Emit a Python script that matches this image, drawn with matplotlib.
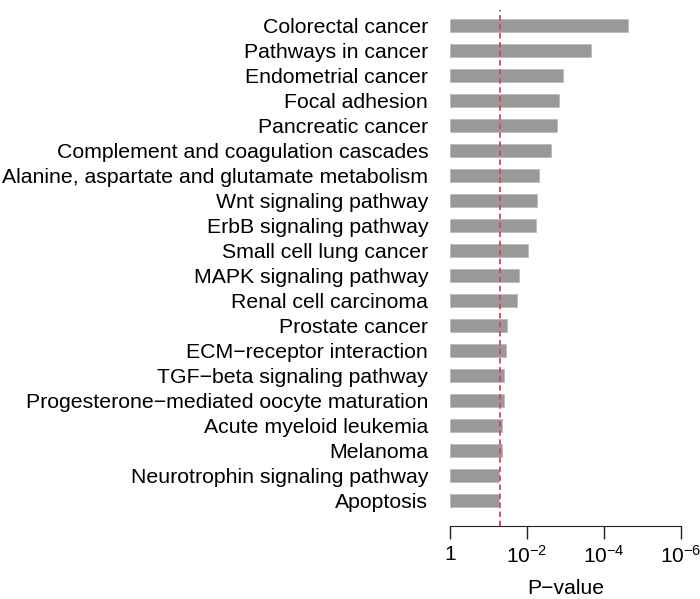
import numpy as np
import matplotlib
matplotlib.use("Agg")
from matplotlib import pyplot as plt

# pathway names, top to bottom
pathways = [
    "Colorectal cancer",
    "Pathways in cancer",
    "Endometrial cancer",
    "Focal adhesion",
    "Pancreatic cancer",
    "Complement and coagulation cascades",
    "Alanine, aspartate and glutamate metabolism",
    "Wnt signaling pathway",
    "ErbB signaling pathway",
    "Small cell lung cancer",
    "MAPK signaling pathway",
    "Renal cell carcinoma",
    "Prostate cancer",
    "ECM\u2212receptor interaction",
    "TGF\u2212beta signaling pathway",
    "Progesterone\u2212mediated oocyte maturation",
    "Acute myeloid leukemia",
    "Melanoma",
    "Neurotrophin signaling pathway",
    "Apoptosis",
]
# -log10(p)
neglogp = [4.63, 3.67, 2.95, 2.84, 2.77, 2.62, 2.31, 2.26, 2.24, 2.04,
           1.80, 1.73, 1.49, 1.45, 1.40, 1.40, 1.36, 1.35, 1.28, 1.28]
cutoff = 0.05
xticks = [0, 2, 4, 6]
xticklabels = ["1", r"$10^{-2}$", r"$10^{-4}$", r"$10^{-6}$"]

plt.rcParams['font.family'] = ['Liberation Sans', 'DejaVu Sans']
plt.rcParams['mathtext.fontset'] = 'custom'
plt.rcParams['mathtext.rm'] = 'Liberation Sans'
plt.rcParams['mathtext.it'] = 'Liberation Sans'

fig = plt.figure(figsize=(7, 5.99), dpi=100)
ax = fig.add_axes([0.643, 0.1219, 0.3294, 0.8614])

pos = np.arange(len(pathways))
ax.barh(pos, neglogp, height=0.53, color='#999999', edgecolor='#bbbbbb', linewidth=0.6)
ax.axvline(-np.log10(cutoff), color='#d04a55', linestyle=(0, (3, 2)), linewidth=1.3)

ax.set_xlim(0, 6)
ax.set_ylim(20.01, -0.61)
ax.set_yticks(pos)
ax.set_yticklabels(pathways, fontsize=15.3)
ax.tick_params(axis='y', length=0, pad=15.8)
ax.set_xticks(xticks)
ax.set_xticklabels(xticklabels, fontsize=15)
ax.tick_params(axis='x', length=9, width=1, color='#222222', pad=4.5)
ax.set_xlabel("P\u2212value", fontsize=15.2, labelpad=9)

for s in ['top', 'right', 'left']:
    ax.spines[s].set_visible(False)
ax.spines['bottom'].set_color('#222222')

fig.savefig("out.png", dpi=100)
